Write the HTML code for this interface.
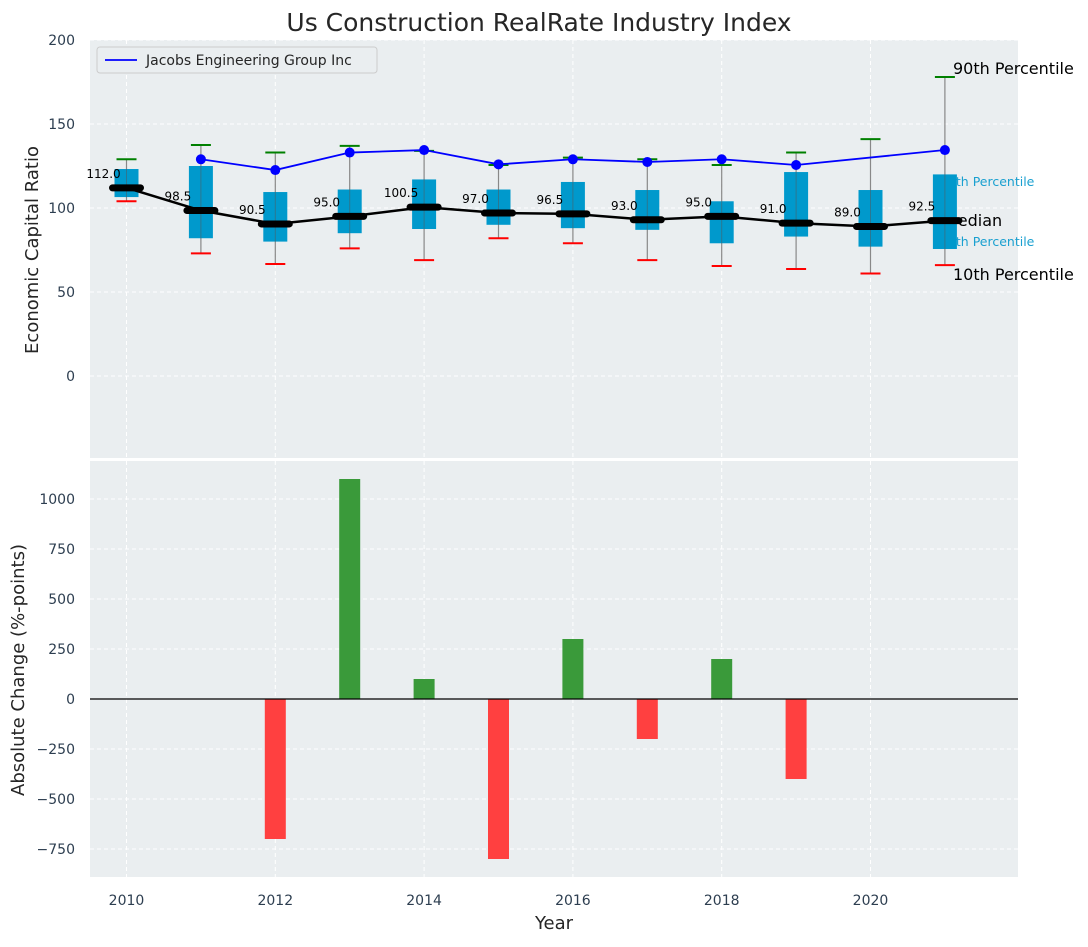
<!DOCTYPE html>
<html><head><meta charset="utf-8"><style>
body{margin:0;background:#fff;}
svg text{font-family:"DejaVu Sans","Liberation Sans",sans-serif;}
</style></head><body>
<svg id="c" width="1088" height="942" xmlns="http://www.w3.org/2000/svg"></svg>
<script>
const years=[2010,2011,2012,2013,2014,2015,2016,2017,2018,2019,2020,2021];
const medians=[112,98.5,90.5,95,100.5,97,96.5,93,95,91,89,92.5];
const q1=[106.5,82,80,85,87.5,90,88,87,79,83,77,75.6];
const q3=[123.2,125,109.5,111,117,111,115.5,110.7,104,121.4,110.7,120];
const p10=[104,73,66.7,76,69,82,79,69,65.5,63.7,61,66];
const p90=[129,137.5,133,137,134,125.6,130,129,125.6,133,141,178];
const jacobsYears=[2011,2012,2013,2014,2015,2016,2017,2018,2019,2021];
const jacobs=[129,122.6,133,134.5,126,129,127.4,129,125.6,134.5];
const changeYears=[2012,2013,2014,2015,2016,2017,2018,2019];
const changes=[-700,1100,100,-800,300,-200,200,-400];
const topTicks=[0,50,100,150,200];
const botTicks=[-750,-500,-250,0,250,500,750,1000];
const xTicks=[2010,2012,2014,2016,2018,2020];

const NS="http://www.w3.org/2000/svg";
const svg=document.getElementById('c');
function el(t,a,txt){const e=document.createElementNS(NS,t);for(const k in a)e.setAttribute(k,a[k]);if(txt!==undefined)e.textContent=txt;svg.appendChild(e);return e;}
const X=v=>126.5+(v-2010)*74.4;
const Y1=v=>376-v*1.68;
const Y2=v=>699-v*0.2;
const fmt=v=>String(v).replace('-','\u2212');

let t=el('text',{x:539,y:31,'text-anchor':'middle','font-size':25,fill:'#262626'},'Us Construction RealRate Industry Index');



let b=el('rect',{x:90,y:40,width:928,height:418,fill:'#eaeef0'});


b=el('rect',{x:90,y:461,width:928,height:416,fill:'#eaeef0'});



xTicks.forEach(v=>{
  let g=el('line',{x1:X(v),x2:X(v),y1:40,y2:458,stroke:'#fff','stroke-dasharray':'4,3','stroke-width':1});
  
  
  g=el('line',{x1:X(v),x2:X(v),y1:461,y2:877,stroke:'#fff','stroke-dasharray':'4,3','stroke-width':1});
  
  
  let l=el('text',{x:X(v),y:905,'text-anchor':'middle','font-size':14,fill:'#2d3e50'},v);
  
  
});
topTicks.forEach(v=>{
  let g=el('line',{x1:90,x2:1018,y1:Y1(v),y2:Y1(v),stroke:'#fff','stroke-dasharray':'4,3','stroke-width':1});
  
  
  let l=el('text',{x:75,y:Y1(v)+5,'text-anchor':'end','font-size':14,fill:'#2d3e50'},fmt(v));
  
  
});
botTicks.forEach(v=>{
  let g=el('line',{x1:90,x2:1018,y1:Y2(v),y2:Y2(v),stroke:'#fff','stroke-dasharray':'4,3','stroke-width':1});
  
  
  let l=el('text',{x:75,y:Y2(v)+5,'text-anchor':'end','font-size':14,fill:'#2d3e50'},fmt(v));
  
  
});

t=el('text',{transform:'translate(38,250) rotate(-90)','text-anchor':'middle','font-size':18,fill:'#262626'},'Economic Capital Ratio');


t=el('text',{transform:'translate(24,670) rotate(-90)','text-anchor':'middle','font-size':18,fill:'#262626'},'Absolute Change (%-points)');


t=el('text',{x:554,y:929,'text-anchor':'middle','font-size':18,fill:'#262626'},'Year');



[[953,74,'90th Percentile',16,'#000'],[940,186,'75th Percentile',12.5,'#1aa0d0'],[944,226,'Median',16,'#000'],[940,246,'25th Percentile',12.5,'#1aa0d0'],[953,280,'10th Percentile',16,'#000']].forEach(a=>{
  let e=el('text',{x:a[0],y:a[1],'font-size':a[3],fill:a[4]},a[2]);
  
  
});

years.forEach((y,i)=>{
  const x=X(y);
  let w=el('line',{x1:x,x2:x,y1:Y1(p90[i]),y2:Y1(p10[i]),stroke:'#888','stroke-width':1.2});
  
  
  let r=el('rect',{x:x-12,y:Y1(q3[i]),width:24,height:Y1(q1[i])-Y1(q3[i]),fill:'#0099cc'});
  
  
  w=el('line',{x1:x,x2:x,y1:Y1(q3[i]),y2:Y1(q1[i]),stroke:'#555','stroke-width':1,'stroke-opacity':0.5});
  
  
  let c=el('line',{x1:x-10,x2:x+10,y1:Y1(p90[i]),y2:Y1(p90[i]),stroke:'green','stroke-width':2});
  
  
  c=el('line',{x1:x-10,x2:x+10,y1:Y1(p10[i]),y2:Y1(p10[i]),stroke:'red','stroke-width':2});
  
  
});
let ml=el('polyline',{points:years.map((y,i)=>X(y)+','+Y1(medians[i])).join(' '),fill:'none',stroke:'#000','stroke-width':2.5});


years.forEach((y,i)=>{
  let m=el('line',{x1:X(y)-14,x2:X(y)+14,y1:Y1(medians[i]),y2:Y1(medians[i]),stroke:'#000','stroke-width':7,'stroke-linecap':'round'});
  
  
  let l=el('text',{x:X(y)-23,y:Y1(medians[i])-10,'text-anchor':'middle','font-size':12,fill:'#000'},medians[i].toFixed(1));
  
  
});
let jl=el('polyline',{points:jacobsYears.map((y,i)=>X(y)+','+Y1(jacobs[i])).join(' '),fill:'none',stroke:'#0000ff','stroke-width':1.8});


jacobsYears.forEach((y,i)=>{
  let p=el('circle',{cx:X(y),cy:Y1(jacobs[i]),r:5,fill:'#0000ff'});
  
  
});

let lg=el('rect',{x:97,y:47,width:280,height:26,fill:'#eaeef0',stroke:'#ccc',rx:3});


lg=el('line',{x1:105,x2:137,y1:60,y2:60,stroke:'#0000ff','stroke-width':1.8});


lg=el('text',{x:146,y:65,'font-size':14,fill:'#262626'},'Jacobs Engineering Group Inc');



changeYears.forEach((y,i)=>{
  const v=changes[i];
  let r=el('rect',{x:X(y)-10.5,y:Math.min(Y2(v),Y2(0)),width:21,height:Math.abs(Y2(v)-Y2(0)),fill:v>=0?'#3a9a3a':'#ff4040'});
  
  
});
let z=el('line',{x1:90,x2:1018,y1:Y2(0),y2:Y2(0),stroke:'#000','stroke-width':1.2});


</script>
</body></html>
